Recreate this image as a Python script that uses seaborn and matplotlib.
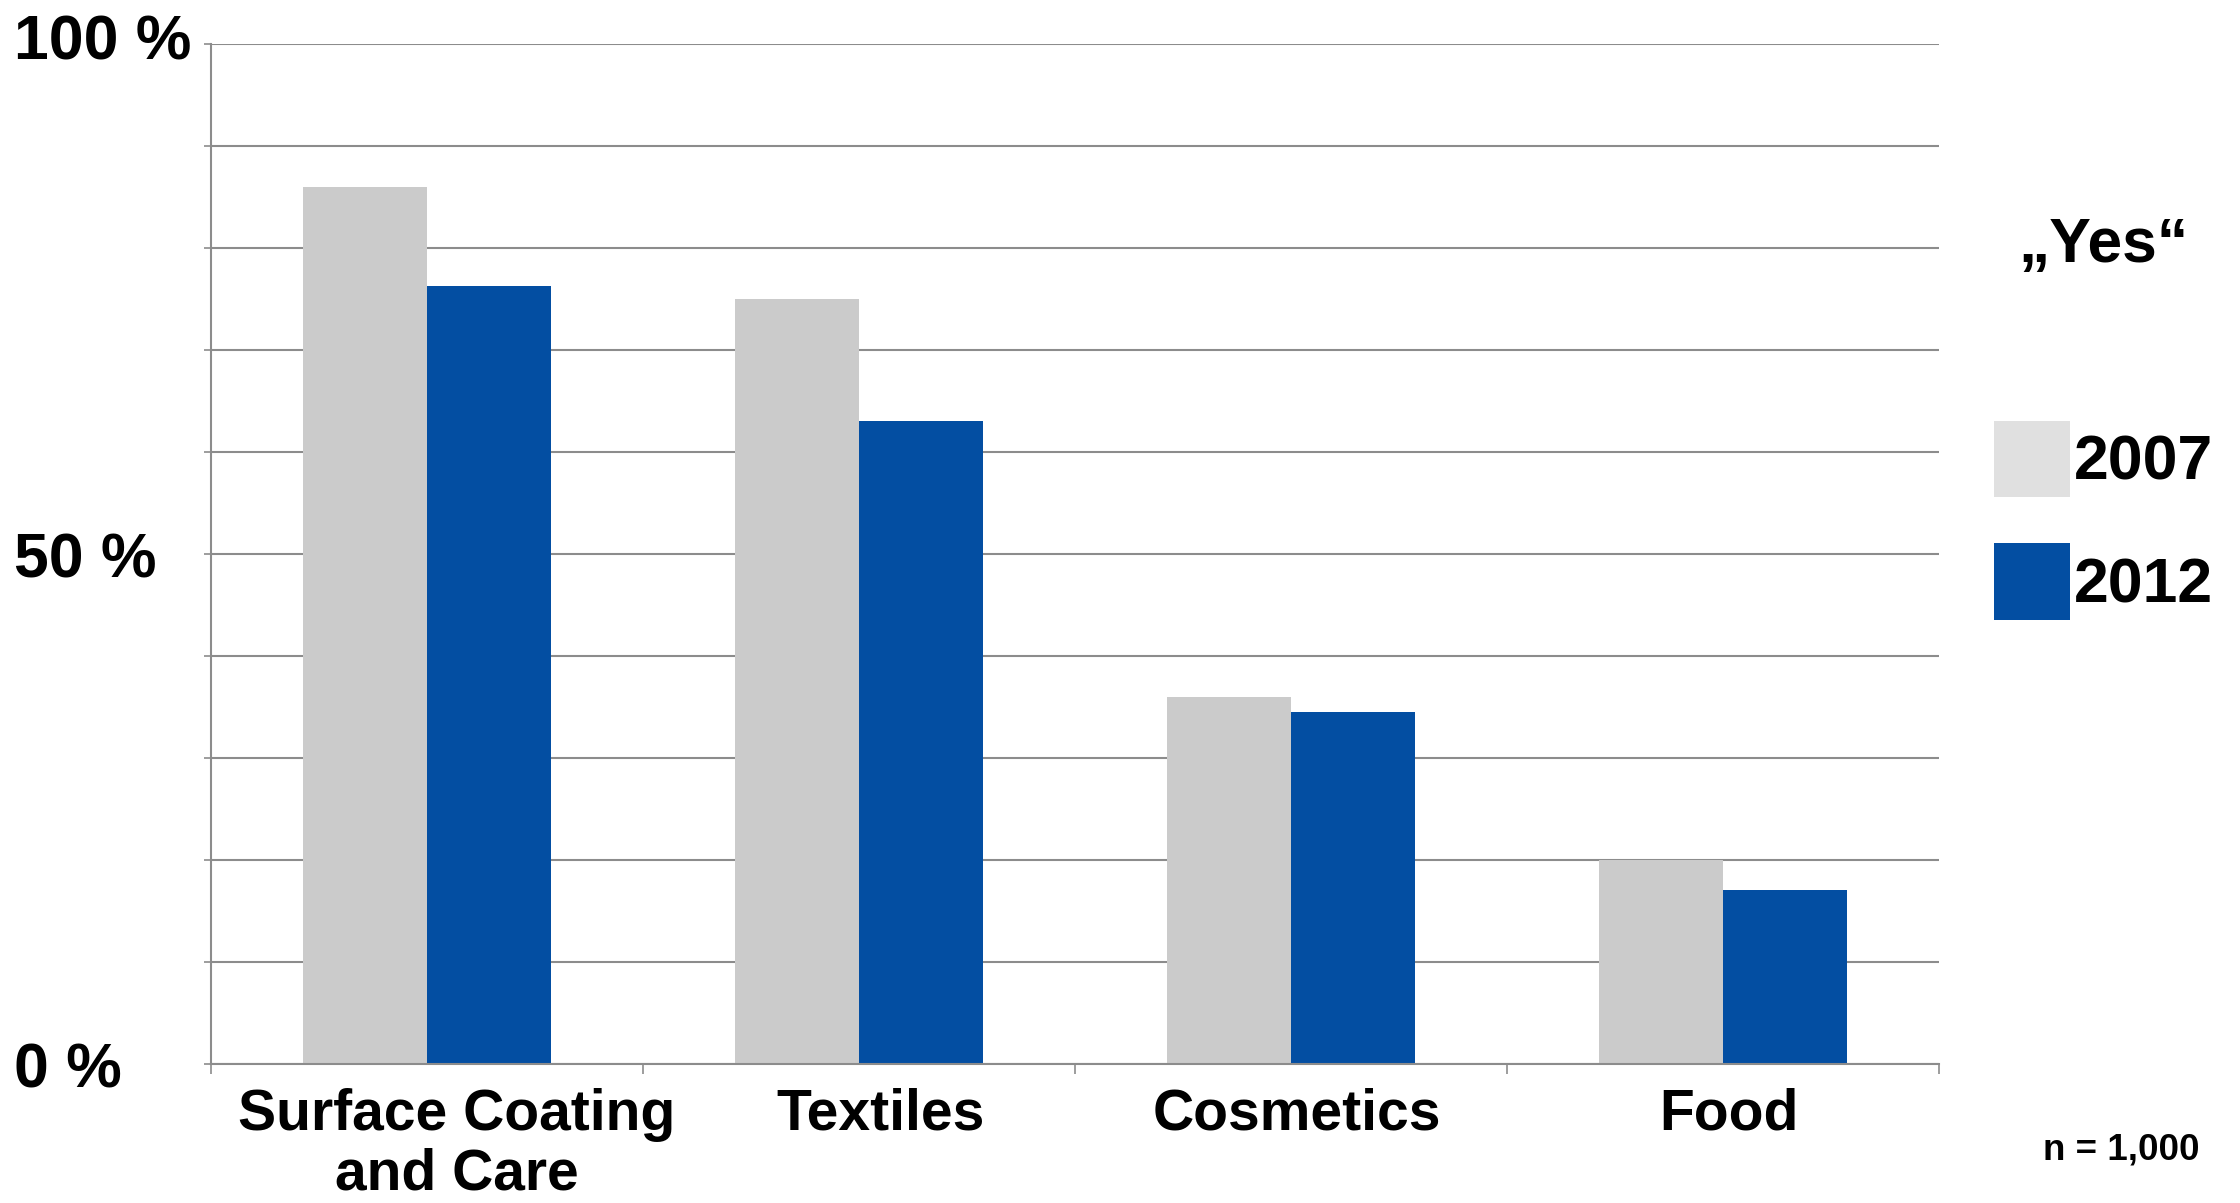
import matplotlib
matplotlib.use("Agg")
import matplotlib.pyplot as plt
from matplotlib.patches import Patch
from matplotlib.ticker import FixedLocator
from matplotlib.transforms import ScaledTranslation
import pandas as pd
import seaborn as sns

# Survey shares answering "Yes", by product area
categories = ["Surface Coating\nand Care", "Textiles", "Cosmetics", "Food"]
years = ["2007", "2012"]
values_2007 = [86.0, 75.0, 36.0, 20.0]
values_2012 = [76.3, 63.0, 34.5, 17.1]
y_tick_values = [0, 50, 100]
y_tick_labels = ["0 %", "50 %", "100 %"]

bar_colors = ["#CBCBCB", "#034EA2"]
legend_colors = ["#E0E0E0", "#034EA2"]
grid_color = "#8C8C8C"

df = pd.DataFrame({
    "category": categories * 2,
    "year": [years[0]] * len(categories) + [years[1]] * len(categories),
    "value": values_2007 + values_2012,
})

sns.set_theme(style="white")
plt.rcParams["font.family"] = ["Liberation Sans", "DejaVu Sans"]
plt.rcParams["font.weight"] = "bold"
plt.rcParams["text.color"] = "black"
plt.rcParams["xtick.labelcolor"] = "black"
plt.rcParams["ytick.labelcolor"] = "black"

fig = plt.figure(figsize=(22.4, 12.03), dpi=100)
ax = fig.add_axes([211 / 2240, 1 - 1064 / 1203, 1728 / 2240, 1020 / 1203])

sns.barplot(data=df, x="category", y="value", hue="year", order=categories,
            hue_order=years, palette=bar_colors, width=0.572, saturation=1,
            linewidth=0, legend=False, ax=ax)

ax.set_xlim(-0.5, len(categories) - 0.5)
ax.set_ylim(0, 100)
ax.set_xlabel("")
ax.set_ylabel("")

# gridlines every 10 %, labels only at 0 / 50 / 100, flush left
ax.yaxis.set_major_locator(FixedLocator(y_tick_values))
ax.set_yticklabels(y_tick_labels, fontsize=45, fontweight="bold", ha="left")
ax.yaxis.set_minor_locator(FixedLocator(list(range(0, 101, 10))))
ax.set_axisbelow(True)
ax.grid(axis="y", which="both", color=grid_color, linewidth=1.5)
ax.grid(axis="x", visible=False)
ax.tick_params(axis="y", which="both", direction="out", length=5,
               width=1.2, color=grid_color, left=True)
ax.tick_params(axis="y", which="major", pad=137)
# the top label sits a little above its gridline
top_label = ax.get_yticklabels()[-1]
top_label.set_transform(top_label.get_transform() + ScaledTranslation(0, 0.07, fig.dpi_scale_trans))

# category labels under each group, boundary ticks between groups
ax.set_xticks(range(len(categories)))
ax.set_xticklabels(categories, fontsize=41, fontweight="bold", linespacing=1.15)
ax.xaxis.set_minor_locator(FixedLocator([i - 0.5 for i in range(len(categories) + 1)]))
ax.tick_params(axis="x", which="major", length=0, pad=17)
ax.tick_params(axis="x", which="minor", direction="out", length=7,
               width=1.2, color=grid_color, bottom=True)
label_shift_px = [30, 22, 6, 6]
for lbl, dx in zip(ax.get_xticklabels(), label_shift_px):
    lbl.set_transform(lbl.get_transform() + ScaledTranslation(dx / 100, 0, fig.dpi_scale_trans))

for side in ["top", "right"]:
    ax.spines[side].set_visible(False)
for side in ["left", "bottom"]:
    ax.spines[side].set_color(grid_color)
    ax.spines[side].set_linewidth(1.5)

# legend on the right
handles = [Patch(facecolor=c, edgecolor="none", label=y) for c, y in zip(legend_colors, years)]
fig.legend(handles=handles, loc="upper left",
           bbox_to_anchor=(1994 / 2240, 1 - 421 / 1203),
           bbox_transform=fig.transFigure, frameon=False,
           prop={"size": 45, "weight": "bold"},
           handlelength=1.22, handleheight=1.5, handletextpad=0.06,
           labelspacing=0.74, borderpad=0, borderaxespad=0)

fig.text(2103 / 2240, 1 - 246 / 1203, "\u201eYes\u201c", fontsize=45,
         fontweight="bold", ha="center", va="center")
fig.text(2121 / 2240, 1 - 1150 / 1203, "n = 1,000", fontsize=26.5,
         fontweight="bold", ha="center", va="center")

fig.savefig("out.png", dpi=100, facecolor="white")
